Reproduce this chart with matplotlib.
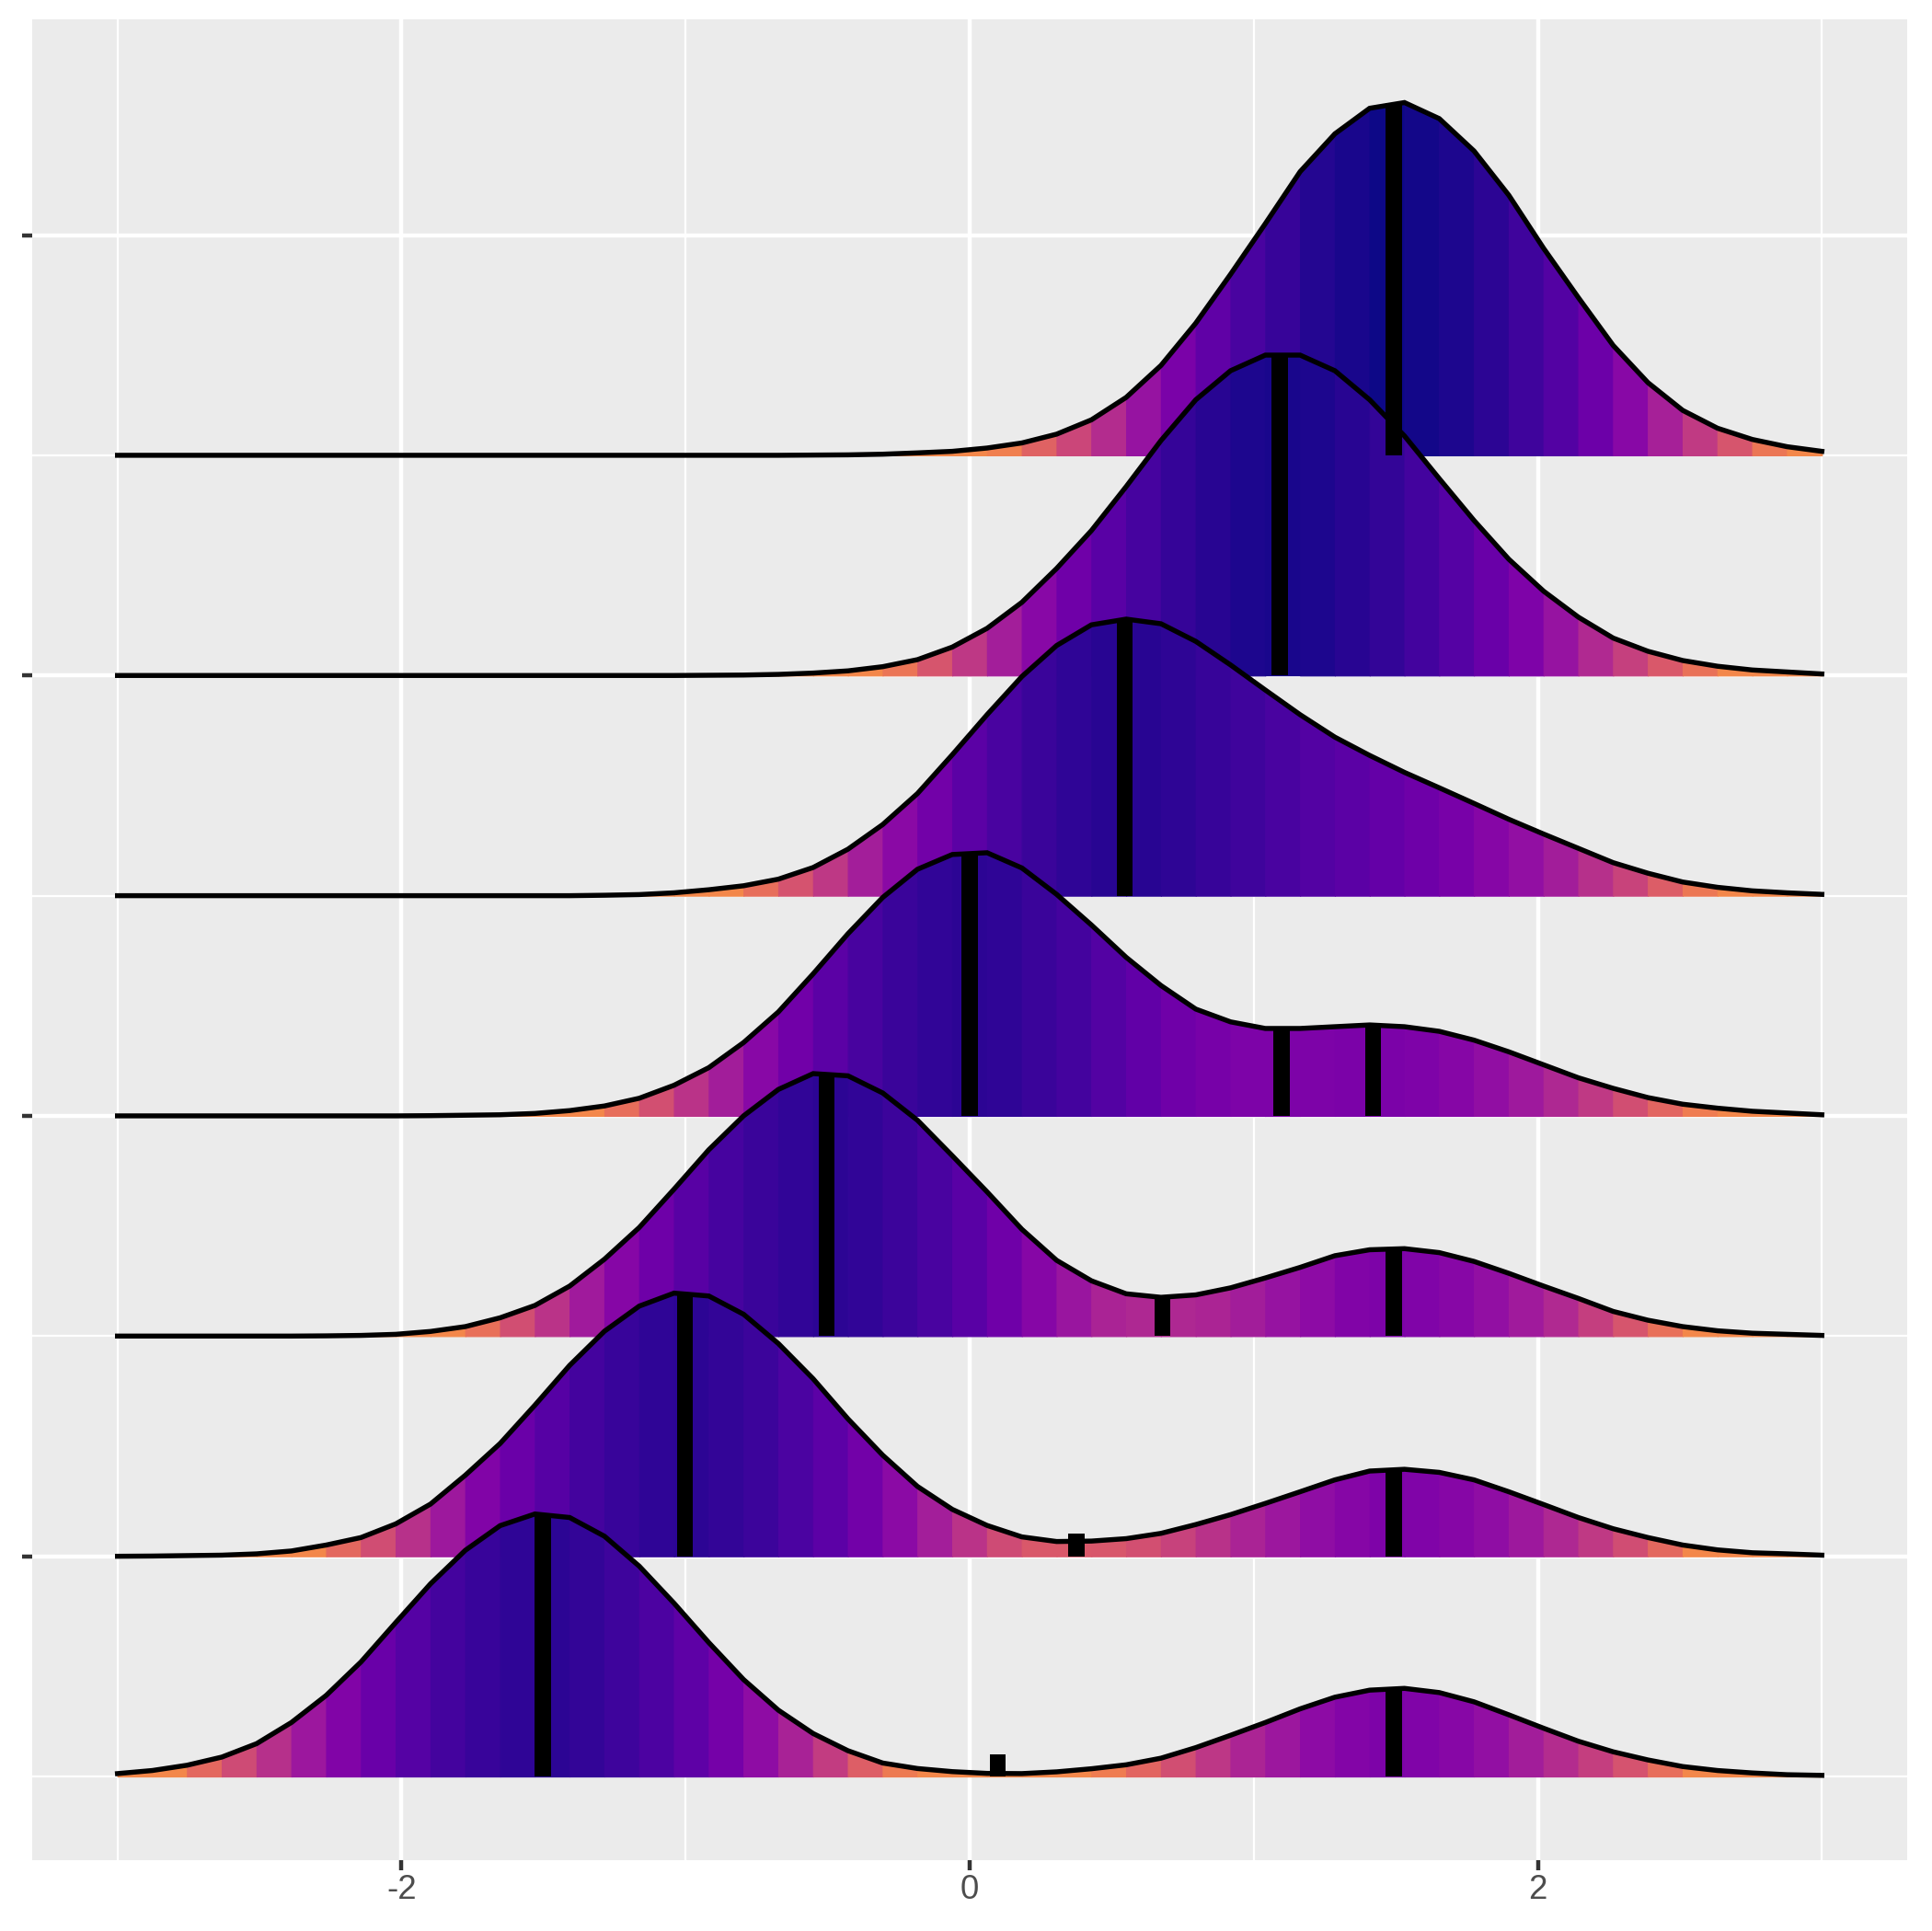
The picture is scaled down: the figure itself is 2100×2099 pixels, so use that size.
"""Ridgeline densities with gradient fill and black marks at the modes / antimodes."""

import matplotlib
matplotlib.use("Agg")
import matplotlib.pyplot as plt
import numpy as np
from matplotlib.colors import LogNorm

plt.rcParams["font.family"] = ["Liberation Sans", "DejaVu Sans"]
plt.rcParams["axes.unicode_minus"] = False

# evaluation grid of the density estimates (50 points from -3 to 3)
x_grid = np.linspace(-3, 3, 50)

# ridge baselines, drawn from the top ridge down
ridge_base = [7, 6, 5, 4, 3, 2, 1]

# density heights (in ridge-spacing units)
dens_7 = [0, 0, 0, 0, 0, 0, 0, 0, 0, 0,
          0, 0, 0, 0, 0, 0, 0, 0, 0, 0,
          0.001, 0.002, 0.005, 0.011, 0.018, 0.033, 0.056, 0.096, 0.161, 0.263,
          0.408, 0.600, 0.822, 1.052, 1.288, 1.460, 1.576, 1.602, 1.529, 1.382,
          1.181, 0.940, 0.716, 0.499, 0.330, 0.204, 0.123, 0.072, 0.039, 0.018]
dens_6 = [0, 0, 0, 0, 0, 0, 0, 0, 0, 0,
          0, 0, 0, 0, 0, 0, 0, 0.001, 0.002, 0.005,
          0.011, 0.021, 0.040, 0.072, 0.129, 0.214, 0.332, 0.486, 0.658, 0.858,
          1.067, 1.252, 1.384, 1.455, 1.455, 1.384, 1.252, 1.088, 0.894, 0.704,
          0.528, 0.383, 0.265, 0.170, 0.110, 0.068, 0.042, 0.025, 0.016, 0.007]
dens_5 = [0, 0, 0, 0, 0, 0, 0, 0, 0, 0,
          0, 0, 0, 0, 0.002, 0.005, 0.013, 0.027, 0.045, 0.075,
          0.128, 0.211, 0.323, 0.464, 0.640, 0.822, 0.995, 1.136, 1.230, 1.256,
          1.235, 1.155, 1.048, 0.934, 0.822, 0.720, 0.637, 0.560, 0.490, 0.419,
          0.347, 0.280, 0.215, 0.150, 0.102, 0.062, 0.038, 0.022, 0.013, 0.006]
dens_4 = [0, 0, 0, 0, 0, 0, 0, 0, 0, 0.001,
          0.003, 0.005, 0.011, 0.024, 0.045, 0.080, 0.139, 0.219, 0.333, 0.472,
          0.645, 0.827, 0.992, 1.120, 1.187, 1.195, 1.126, 1.006, 0.867, 0.720,
          0.592, 0.485, 0.427, 0.397, 0.397, 0.405, 0.413, 0.405, 0.384, 0.344,
          0.291, 0.232, 0.173, 0.125, 0.083, 0.053, 0.035, 0.021, 0.013, 0.005]
dens_3 = [0, 0, 0, 0, 0, 0, 0.001, 0.003, 0.008, 0.021,
          0.043, 0.083, 0.139, 0.227, 0.349, 0.493, 0.667, 0.846, 1.000, 1.120,
          1.192, 1.182, 1.104, 0.980, 0.819, 0.655, 0.485, 0.344, 0.251, 0.192,
          0.176, 0.187, 0.219, 0.264, 0.312, 0.365, 0.392, 0.397, 0.379, 0.339,
          0.285, 0.227, 0.171, 0.112, 0.072, 0.043, 0.024, 0.013, 0.008, 0.003]
dens_2 = [0, 0.001, 0.003, 0.005, 0.011, 0.024, 0.051, 0.085, 0.147, 0.237,
          0.368, 0.512, 0.686, 0.867, 1.022, 1.136, 1.195, 1.182, 1.099, 0.966,
          0.806, 0.624, 0.459, 0.317, 0.213, 0.140, 0.088, 0.067, 0.069, 0.080,
          0.104, 0.144, 0.189, 0.240, 0.293, 0.347, 0.387, 0.395, 0.381, 0.347,
          0.293, 0.235, 0.176, 0.125, 0.085, 0.051, 0.029, 0.016, 0.011, 0.005]
dens_1 = [0.013, 0.027, 0.051, 0.088, 0.149, 0.245, 0.368, 0.520, 0.699, 0.875,
          1.027, 1.139, 1.192, 1.176, 1.091, 0.955, 0.787, 0.608, 0.440, 0.301,
          0.195, 0.117, 0.061, 0.036, 0.022, 0.014, 0.013, 0.021, 0.035, 0.053,
          0.083, 0.131, 0.187, 0.245, 0.307, 0.360, 0.392, 0.400, 0.381, 0.339,
          0.280, 0.219, 0.160, 0.112, 0.075, 0.045, 0.027, 0.016, 0.008, 0.005]
densities = [dens_7, dens_6, dens_5, dens_4, dens_3, dens_2, dens_1]

# local extrema of each density (x position, height)
mark_x = [[1.494], [1.092], [0.546],
          [0.0, 1.097, 1.420], [-0.504, 0.679, 1.494],
          [-1.002, 0.375, 1.494], [-1.502, 0.099, 1.494]]
mark_h = [[1.600], [1.455], [1.256],
          [1.192, 0.397, 0.413], [1.192, 0.179, 0.397],
          [1.195, 0.101, 0.395], [1.192, 0.101, 0.400]]

x_ticks = [-2, 0, 2]
x_ticklabels = ["-2", "0", "2"]


def main() -> None:
    fig = plt.figure(figsize=(7, 2099 / 300), dpi=300)
    ax = fig.add_axes([0.0167, 0.0367, 0.9704, 0.9533])

    cmap = plt.get_cmap("plasma")
    norm = LogNorm(vmin=0.029, vmax=1.6, clip=True)

    z = 2
    for base, dens in zip(ridge_base, densities):
        d = np.asarray(dens, dtype=float)
        for i in range(len(x_grid) - 1):
            level = max(min(d[i], d[i + 1]), 1e-6)
            col = cmap(0.71 * (1 - float(norm(level))))
            ax.fill_between(x_grid[i:i + 2], base, base + d[i:i + 2],
                            facecolor=col, edgecolor=col, linewidth=0.3, zorder=z)
        ax.plot(x_grid, base + d, color="black", linewidth=1.3,
                solid_joinstyle="miter", zorder=z + 0.5)
        z += 1

    for base, mx, mh in zip(ridge_base, mark_x, mark_h):
        ax.bar(mx, mh, width=0.057, bottom=base, color="black", linewidth=0, zorder=50)

    ax.set_xlim(-3.3, 3.3)
    ax.set_ylim(0.62, 8.98)
    ax.set_facecolor("#EBEBEB")
    for s in ax.spines.values():
        s.set_visible(False)

    ax.set_xticks(x_ticks)
    ax.set_xticklabels(x_ticklabels)
    ax.set_xticks([-3, -1, 1, 3], minor=True)
    ax.set_yticks([2, 4, 6, 8])
    ax.set_yticklabels([])
    ax.set_yticks([1, 3, 5, 7], minor=True)

    ax.grid(True, which="major", color="white", linewidth=1.07)
    ax.grid(True, which="minor", color="white", linewidth=0.53)
    ax.set_axisbelow(True)
    ax.tick_params(which="major", length=2.7, width=1.07, color="#333333",
                   labelsize=8.8, labelcolor="#4D4D4D", pad=0.8)
    ax.tick_params(which="minor", length=0)

    fig.savefig("out.png", dpi=300, facecolor="white")
    plt.close(fig)


if __name__ == "__main__":
    main()
